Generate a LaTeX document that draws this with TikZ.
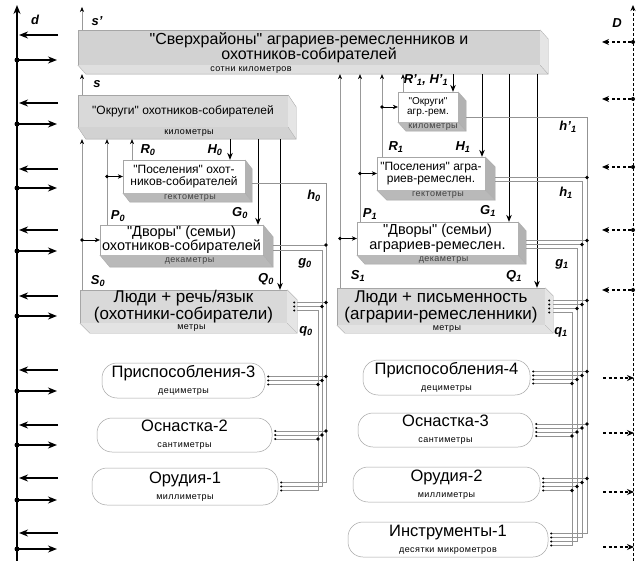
\documentclass[tikz,border=0pt]{standalone}
\usepackage{fontspec}
\setmainfont{Liberation Sans}
\newfontfamily\unitfont[LetterSpace=5]{Liberation Sans}
\usetikzlibrary{arrows.meta,calc}

\newcommand{\fbig}{\fontsize{16}{15.5}\selectfont}
\newcommand{\fppl}{\fontsize{16.5}{16}\selectfont}
\newcommand{\fman}{\fontsize{17}{17}\selectfont}
\newcommand{\fmid}{\fontsize{14.5}{14.5}\selectfont}
\newcommand{\fsml}{\fontsize{12}{12}\selectfont}
\newcommand{\fxs}{\fontsize{10}{10.5}\selectfont}
\newcommand{\ftiny}{\unitfont\fontsize{9}{9}\selectfont}
\newcommand{\flab}{\fontsize{13}{13}\selectfont\bfseries\itshape}
\newcommand{\ix}[2]{#1\textsubscript{#2}}
\newcommand{\qq}[1]{\textquotedbl#1\textquotedbl}

% side and bottom faces of a slab, name / dx / dy / side / bottom
\newcommand{\slab}[5]{%
  \fill[#4] (#1.north east) -- ++(#2,#3) -- ($(#1.south east)+(#2,#3)$) -- (#1.south east) -- cycle;
  \fill[#5] (#1.south west) -- (#1.south east) -- ($(#1.south east)+(#2,#3)$) -- ($(#1.south west)+(#2,#3)$) -- cycle;
  \draw[gray!70, line width=0.3pt] (#1.north east) -- ++(#2,#3) -- ($(#1.south east)+(#2,#3)$) -- ($(#1.south west)+(#2,#3)$) -- (#1.south west);
  \draw[gray!70, line width=0.3pt] (#1.south east) -- ++(#2,#3);
  \coordinate (#1-b) at ($(#1.south west)+(0,#3)$);
}

\begin{document}
\begin{tikzpicture}[x=1pt, y=-1pt, >=stealth,
    front/.style={draw=gray!70, line width=0.3pt, inner sep=0pt, align=center},
    pill/.style={draw=gray!70, line width=0.5pt, fill=white, rounded corners=15pt, inner sep=0pt, align=center, font=\fppl},
    up/.style={gray!80, line width=0.5pt, -{Stealth[black, length=5pt, width=4pt]}},
    down/.style={black, line width=0.9pt, -{Stealth[length=7pt, width=5.5pt]}},
    feed/.style={black, line width=0.6pt, -{Stealth[length=5pt, width=4.5pt]}},
    fb/.style={gray!85, line width=0.45pt},
    lab/.style={font=\flab, inner sep=0pt},
    unit/.style={font=\ftiny, inner sep=0pt},
    axarr/.style={black, line width=1.6pt, -{Stealth[length=9pt, width=7pt]}},
    daxarr/.style={black, line width=1.2pt, dash pattern=on 3pt off 2.5pt, -{Stealth[length=7pt, width=6pt]}}]

\useasboundingbox[fill=white] (0,0) rectangle (637,561);

% columns of the connectors
\coordinate (xa) at (82,0);   \coordinate (xb) at (107,0);  \coordinate (xc) at (132,0);
\coordinate (xh0) at (230,0); \coordinate (xg0) at (258,0); \coordinate (xq0) at (280,0);
\coordinate (xd) at (340,0);  \coordinate (xe) at (360,0);  \coordinate (xf) at (382,0);
\coordinate (xg) at (403,0);
\coordinate (xh1p) at (453,0); \coordinate (xh1) at (482,0); \coordinate (xg1) at (509,0); \coordinate (xq1) at (537,0);
\coordinate (lb1) at (318,0); \coordinate (lb2) at (322,0); \coordinate (lb3) at (326,0);
\coordinate (rb1) at (572,0); \coordinate (rb2) at (577,0); \coordinate (rb3) at (582,0); \coordinate (rb4) at (587,0);
\coordinate (sp) at (82,7);

% scale axes
\draw[axarr] (17,561) -- (17,5);
\foreach \yl/\yr in {35/60,103/124,169/188,230/251,296/316,370/391,425/445,478/500,533/549} {
  \draw[axarr] (58,\yl) -- (19,\yl);
  \fill (17,\yr) circle (2.5);
  \draw[axarr] (17,\yr) -- (57,\yr);
}
\draw[black, line width=1pt, dash pattern=on 3pt off 2pt, -{Stealth[length=6pt, width=5pt]}] (633,561) -- (633,5);
\foreach \y in {42,99,167,230,290} {
  \fill (633,\y) circle (2);
  \draw[daxarr] (631,\y) -- (602,\y);
}
\foreach \y in {378,433,492,547}
  \draw[daxarr] (603,\y) -- (634,\y);

% slabs
\node[front, fill=gray!35, minimum width=462pt, minimum height=35pt, font=\fbig] (top) at (309,47.5)
  {\qq{Сверхрайоны} аграриев-ремесленников и\\охотников-собирателей};
\slab{top}{8}{9}{gray!20}{gray!25}
\node[unit] (topu) at ($(top.south)+(-58,4.5)$) {сотни километров};

\node[front, fill=gray!30, minimum width=210pt, minimum height=32pt, font=\fsml] (okr0) at (183,111)
  {\qq{Округи} охотников-собирателей};
\slab{okr0}{8}{12}{gray!20}{gray!35}
\node[unit] (okr0u) at ($(okr0.south)+(6,6)$) {километры};

\node[front, fill=white, minimum width=60pt, minimum height=30pt, font=\fxs] (okr1) at (428,107)
  {\qq{Округи}\\агр.-рем.};
\slab{okr1}{8}{9}{gray!60}{gray!55}
\node[unit, text=black!75] (okr1u) at ($(okr1.south)+(5,5)$) {километры};

\node[front, fill=white, minimum width=122pt, minimum height=33pt, font=\fsml] (pos0) at (184,176.5)
  {\qq{Поселения} охот-\\ников-собирателей};
\slab{pos0}{7}{9}{gray!60}{gray!55}
\node[unit, text=black!75] (pos0u) at ($(pos0.south)+(6,5)$) {гектометры};

\node[front, fill=white, minimum width=163pt, minimum height=30pt, font=\fmid] (dvo0) at (181.5,240)
  {\qq{Дворы} (семьи)\\охотников-собирателей};
\slab{dvo0}{10}{12}{gray!60}{gray!55}
\node[unit, text=black!75] (dvo0u) at ($(dvo0.south)+(8,6)$) {декаметры};

\node[front, fill=gray!30, minimum width=207pt, minimum height=33pt, font=\fman] (lud0) at (183.5,306.5)
  {Люди + речь/язык\\(охотники-собиратели)};
\slab{lud0}{10}{10}{gray!20}{gray!22}
\node[unit] (lud0u) at ($(lud0.south)+(8,5)$) {метры};

\node[front, fill=white, minimum width=108pt, minimum height=33pt, font=\fsml] (pos1) at (431,173.5)
  {\qq{Поселения} агра-\\риев-ремеслен.};
\slab{pos1}{10}{10}{gray!60}{gray!55}
\node[unit, text=black!75] (pos1u) at ($(pos1.south)+(7,5)$) {гектометры};

\node[front, fill=white, minimum width=161pt, minimum height=33pt, font=\fmid] (dvo1) at (437.5,238.5)
  {\qq{Дворы} (семьи)\\аграриев-ремеслен.};
\slab{dvo1}{8}{9}{gray!60}{gray!55}
\node[unit, text=black!75] (dvo1u) at ($(dvo1.south)+(6,5)$) {декаметры};

\node[front, fill=gray!30, minimum width=208pt, minimum height=37pt, font=\fman] (lud1) at (441,306.5)
  {Люди + письменность\\(аграрии-ремесленники)};
\slab{lud1}{8}{8}{gray!20}{gray!22}
\node[unit] (lud1u) at ($(lud1.south)+(6,4)$) {метры};

% tools
\node[pill, minimum width=163pt, minimum height=35pt] (pr3) at (183.5,380.5) {Приспособления-3\\{\ftiny дециметры}};
\node[pill, minimum width=175pt, minimum height=34pt] (os2) at (184.5,435) {Оснастка-2\\{\ftiny сантиметры}};
\node[pill, minimum width=186pt, minimum height=37pt] (or1) at (185,486.5) {Орудия-1\\{\ftiny миллиметры}};
\node[pill, minimum width=167pt, minimum height=35pt] (pr4) at (446.5,377.5) {Приспособления-4\\{\ftiny дециметры}};
\node[pill, minimum width=175pt, minimum height=34pt] (os3) at (445.5,430) {Оснастка-3\\{\ftiny сантиметры}};
\node[pill, minimum width=187pt, minimum height=35pt] (or2) at (446.5,484.5) {Орудия-2\\{\ftiny миллиметры}};
\node[pill, minimum width=200pt, minimum height=35pt] (in1) at (448,539.5) {Инструменты-1\\{\ftiny десятки микрометров}};

% upward links
\draw[up] (top.north -| xa) -- (sp);
\foreach \lo/\hi/\col in {lud0/okr0/xa, dvo0/okr0/xb, pos0/okr0/xc, okr0/top/xa,
                          lud1/top/xd, dvo1/top/xe, pos1/top/xf, okr1/top/xg}
  \draw[up] (\lo.north -| \col) -- (\hi-b -| \col);
\foreach \col/\tgt in {xa/dvo0, xb/pos0, xd/dvo1, xe/pos1, xf/okr1} {
  \fill (\tgt.west -| \col) circle (1.8);
  \draw[feed] (\tgt.west -| \col) -- (\tgt.west);
}

% downward links
\foreach \hi/\lo/\col in {okr0/pos0/xh0, okr0/dvo0/xg0, okr0/lud0/xq0,
                          top/okr1/xh1p, top/pos1/xh1, top/dvo1/xg1, top/lud1/xq1}
  \draw[down] (\hi-b -| \col) -- (\lo.north -| \col);

% returns, left
\draw[fb] ($(pos0.east)+(7,7)$) -| ($(lb3 |- or1.east)+(0,-4)$) -- ($(or1.east)+(3,-4)$);
\draw[fb] ($(dvo0.east)+(10,5)$) -- ($(lb3 |- dvo0.east)+(0,5)$);
\fill ($(lb3 |- dvo0.east)+(0,5)$) circle (1.8);
\draw[fb] ($(dvo0.east)+(10,10)$) -| (lb2 |- or1.east) -- ($(or1.east)+(3,0)$);
\foreach \dy/\bx in {-4/lb3, 0/lb2} {
  \draw[fb] ($(lud0.east)+(10,\dy)$) -- ($(\bx |- lud0.east)+(0,\dy)$);
  \fill ($(\bx |- lud0.east)+(0,\dy)$) circle (1.8);
}
\draw[fb] ($(lud0.east)+(10,4)$) -| ($(lb1 |- or1.east)+(0,4)$) -- ($(or1.east)+(3,4)$);
\foreach \dy in {-4,0,4} {
  \fill ($(lud0.east)+(7,\dy)$) circle (1.1);
  \fill ($(or1.east)+(3,\dy)$) circle (1.1);
}
\foreach \p in {pr3, os2} {
  \foreach \dy/\bx in {-4/lb3, 0/lb2, 4/lb1} {
    \draw[fb] ($(\p.east)+(3,\dy)$) -- ($(\bx |- \p.east)+(0,\dy)$);
    \fill ($(\bx |- \p.east)+(0,\dy)$) circle (1.8);
    \fill ($(\p.east)+(3,\dy)$) circle (1.1);
  }
}

% returns, right
\draw[fb] ($(okr1.east)+(8,10)$) -| ($(rb4 |- in1.east)+(0,-6)$) -- ($(in1.east)+(3,-6)$);
\draw[fb] ($(pos1.east)+(10,4)$) -- ($(rb4 |- pos1.east)+(0,4)$);
\fill ($(rb4 |- pos1.east)+(0,4)$) circle (1.8);
\draw[fb] ($(pos1.east)+(10,8)$) -| ($(rb3 |- in1.east)+(0,-2)$) -- ($(in1.east)+(3,-2)$);
\foreach \dy/\bx in {2/rb4, 6/rb3} {
  \draw[fb] ($(dvo1.east)+(8,\dy)$) -- ($(\bx |- dvo1.east)+(0,\dy)$);
  \fill ($(\bx |- dvo1.east)+(0,\dy)$) circle (1.8);
}
\draw[fb] ($(dvo1.east)+(8,10)$) -| ($(rb2 |- in1.east)+(0,2)$) -- ($(in1.east)+(3,2)$);
\foreach \dy/\bx in {-6/rb4, -2/rb3, 2/rb2} {
  \draw[fb] ($(lud1.east)+(8,\dy)$) -- ($(\bx |- lud1.east)+(0,\dy)$);
  \fill ($(\bx |- lud1.east)+(0,\dy)$) circle (1.8);
}
\draw[fb] ($(lud1.east)+(8,6)$) -| ($(rb1 |- in1.east)+(0,6)$) -- ($(in1.east)+(3,6)$);
\foreach \dy in {-6,-2,2,6} {
  \fill ($(lud1.east)+(4,\dy)$) circle (1.1);
  \fill ($(in1.east)+(3,\dy)$) circle (1.1);
}
\foreach \p in {pr4, os3, or2} {
  \foreach \dy/\bx in {-6/rb4, -2/rb3, 2/rb2, 6/rb1} {
    \draw[fb] ($(\p.east)+(3,\dy)$) -- ($(\bx |- \p.east)+(0,\dy)$);
    \fill ($(\bx |- \p.east)+(0,\dy)$) circle (1.8);
    \fill ($(\p.east)+(3,\dy)$) circle (1.1);
  }
}

% labels
\node[lab] (ld) at (35,20) {d};
\node[lab] (lsp) at (97,21) {s'};
\node[lab] (ls) at (97,84) {s};
\node[lab] (lD) at (617,23) {D};
\node[lab] (lR0) at (148,150) {\ix{R}{0}};
\node[lab] (lH0) at (215,150) {\ix{H}{0}};
\node[lab] (lP0) at (118,216) {\ix{P}{0}};
\node[lab] (lG0) at (240,213) {\ix{G}{0}};
\node[lab] (lS0) at (98,281) {\ix{S}{0}};
\node[lab] (lQ0) at (266,279) {\ix{Q}{0}};
\node[lab] (lh0) at (314,196) {\ix{h}{0}};
\node[lab] (lg0) at (305,263) {\ix{g}{0}};
\node[lab] (lq0) at (306,331) {\ix{q}{0}};
\node[lab] (lRH1) at (426,80) {\ix{R'}{1}, \ix{H'}{1}};
\node[lab] (lR1) at (396,147) {\ix{R}{1}};
\node[lab] (lH1) at (463,147) {\ix{H}{1}};
\node[lab] (lP1) at (370,214) {\ix{P}{1}};
\node[lab] (lG1) at (488,211) {\ix{G}{1}};
\node[lab] (lS1) at (358,276) {\ix{S}{1}};
\node[lab] (lQ1) at (514,276) {\ix{Q}{1}};
\node[lab] (lhp1) at (568,127) {\ix{h'}{1}};
\node[lab] (lh1) at (566,193) {\ix{h}{1}};
\node[lab] (lg1) at (562,264) {\ix{g}{1}};
\node[lab] (lq1) at (561,332) {\ix{q}{1}};
\end{tikzpicture}
\end{document}
